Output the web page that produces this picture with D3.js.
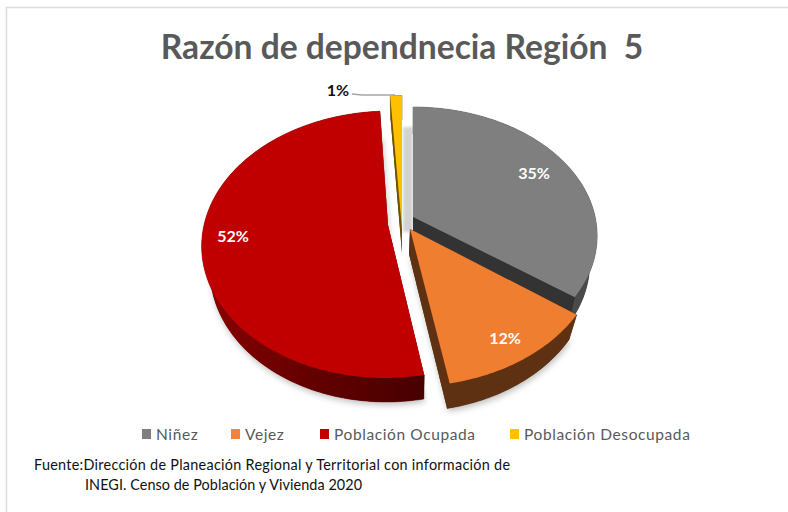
<!DOCTYPE html>
<html><head><meta charset="utf-8">
<script src="https://cdn.jsdelivr.net/npm/d3@7/dist/d3.min.js"></script>
<style>html,body{margin:0;padding:0;background:#fff}svg{display:block}text{font-family:Lato,"Open Sans",sans-serif}</style>
</head><body><svg id="c" width="788" height="512"></svg>
<script>
const titleText = "Razón de dependnecia Región  5";
const categories = ["Niñez","Vejez","Población Ocupada","Población Desocupada"];
const values = [34.9,12.2,51.9,1.0];
const labels = ["35%","12%","52%","1%"];
const sourceLines = ["Fuente:Dirección de Planeación Regional y Territorial con información de","INEGI. Censo de Población y Vivienda 2020"];

const topColors = ["#7f7f7f","#ef7e30","#c00000","#ffc000"];
const rimColors = ["#4a4a4a","#5f3113","url(#redSide)","#6b5200"];
const cutColors = ["#333333","#5f3113","#4a0000","#6b5200"];
const legendColors = ["#7f7f7f","#f5813a","#c00000","#ffc000"];

const svg = d3.select("#c");
const defs = svg.append("defs");
const rg = defs.append("linearGradient").attr("id","redSide").attr("gradientUnits","userSpaceOnUse")
  .attr("x1",205).attr("x2",425).attr("y1",0).attr("y2",0);
rg.append("stop").attr("offset",0).attr("stop-color","#8a0000");
rg.append("stop").attr("offset",0.45).attr("stop-color","#650000");
rg.append("stop").attr("offset",1).attr("stop-color","#470000");
const sh = defs.append("filter").attr("id","soft").attr("x","-20%").attr("y","-20%").attr("width","140%").attr("height","140%");
sh.append("feGaussianBlur").attr("stdDeviation",3.2);
const sh2 = defs.append("filter").attr("id","soft2").attr("x","-100%").attr("y","-20%").attr("width","300%").attr("height","140%");
sh2.append("feGaussianBlur").attr("stdDeviation",1.8);

// page frame
svg.append("path").attr("d","M6.5,512V7.5H788").attr("fill","none").attr("stroke","#dcdcdc").attr("stroke-width",1.5);

// title
svg.append("text").attr("x",402).attr("y",58.5).attr("text-anchor","middle").attr("fill","#595959")
  .attr("font-size",33.6).attr("font-weight",700).style("white-space","pre").text(titleText);

// perspective pie: d3.pie angles projected through a tilted disc
const pieGen = d3.pie().sort(null).value(d=>d);
const arcs = pieGen(values);
const K = 0.146, A = 184, B = 130.6, SHRINK = 0.96;
const apexes = [[413,217],[410,229],[388,225],[402,229]];
const scaleX = [0.99,1.02,1,1.17];
const scaleY = [0.965,1.03,1,1.17];
const shear = [0,0,-0.018,0];
const depth = [[0,27],[-1,25],[1,24],[0,24]];
function project(i,theta,r){
  const u=r*Math.sin(theta), v=-r*Math.cos(theta), w=1-K*v;
  const dy=scaleY[i]*B*v/w;
  return [apexes[i][0]+scaleX[i]*A*u/w+shear[i]*dy, apexes[i][1]+dy];
}
function lower(i,p){
  const a=apexes[i], d=depth[i];
  return [a[0]+d[0]+SHRINK*(p[0]-a[0]), a[1]+d[1]+(p[1]-a[1])];
}
function rimPoints(i,d){
  const n=Math.max(4,Math.ceil((d.endAngle-d.startAngle)/0.02));
  return d3.range(n+1).map(k=>project(i,d.startAngle+(d.endAngle-d.startAngle)*k/n,1));
}
const line = d3.line().curve(d3.curveLinear);
const closed = pts => line(pts)+"Z";
const slices = arcs.map((d,i)=>{ const rim=rimPoints(i,d); return {i,d,rim,low:rim.map(p=>lower(i,p)),apex:apexes[i],lowApex:lower(i,apexes[i])}; });

// soft ground shadows
const shadow = svg.append("g").attr("filter","url(#soft)").attr("opacity",0.42);
[2,1].forEach(i=>{ const s=slices[i];
  shadow.append("path").attr("d",closed([s.lowApex,...s.low].map(p=>[p[0]+1,p[1]+3]))).attr("fill","#666"); });
// light shadow falling in the gap beside the first slice
const g0=slices[0], edgeTop=project(0,0,1);
svg.append("path").attr("filter","url(#soft2)").attr("fill","#d2d2d2")
  .attr("d",closed([[edgeTop[0]-10,edgeTop[1]+20],[edgeTop[0],edgeTop[1]+20],[g0.apex[0],g0.apex[1]+15],[g0.apex[0]-10,g0.apex[1]+15]]));

// draw order: back to front
const order=[0,3,2,1];
const pieG = svg.append("g");
order.forEach(i=>{
  const s=slices[i], g=pieG.append("g");
  g.append("path").attr("d",closed([s.lowApex,...s.low])).attr("fill",cutColors[i]);
  g.append("path").attr("d",closed([...s.rim,...s.low.slice().reverse()])).attr("fill",rimColors[i]).attr("stroke",rimColors[i]).attr("stroke-width",0.5);
  g.append("path").attr("d",closed([s.apex,s.rim[s.rim.length-1],s.low[s.low.length-1],s.lowApex])).attr("fill",cutColors[i]);
  g.append("path").attr("d",closed([s.apex,s.rim[0],s.low[0],s.lowApex])).attr("fill",cutColors[i]);
  g.append("path").attr("d",closed([s.apex,...s.rim])).attr("fill",topColors[i]);
});

// data labels
const labelPos=[[534,173,"#fff"],[505,338,"#fff"],[233,236,"#fff"],[338,90,"#111"]];
svg.append("g").selectAll("text").data(labels).join("text")
  .attr("x",(d,i)=>labelPos[i][0]).attr("y",(d,i)=>labelPos[i][1]+5.5).attr("text-anchor","middle")
  .attr("font-size",16).attr("font-weight",700).attr("fill",(d,i)=>labelPos[i][2]).text(d=>d);
// leader for the smallest slice
const lp=project(3,arcs[3].startAngle+(arcs[3].endAngle-arcs[3].startAngle)*0.5,1);
svg.append("path").attr("d",line([[352,94],[362,95],[lp[0]-1,95]])).attr("fill","none").attr("stroke","#a6a6a6").attr("stroke-width",1.4);

// legend
const legendX=[142,231,320,510];
const leg=svg.append("g").selectAll("g").data(categories).join("g").attr("transform",(d,i)=>`translate(${legendX[i]},429)`);
leg.append("rect").attr("width",9).attr("height",10).attr("fill",(d,i)=>legendColors[i]);
leg.append("text").attr("x",14).attr("y",10.5).attr("font-size",15.5).attr("fill","#595959").attr("letter-spacing",0.6).text(d=>d);

// source note
const srcX=[34,85], srcW=[476,277];
svg.append("g").selectAll("text").data(sourceLines).join("text")
  .attr("x",(d,i)=>srcX[i]).attr("y",(d,i)=>i?490:470).attr("font-size",14.4).attr("fill","#111")
  .attr("textLength",(d,i)=>srcW[i]).attr("lengthAdjust","spacing").text(d=>d);
</script></body></html>
